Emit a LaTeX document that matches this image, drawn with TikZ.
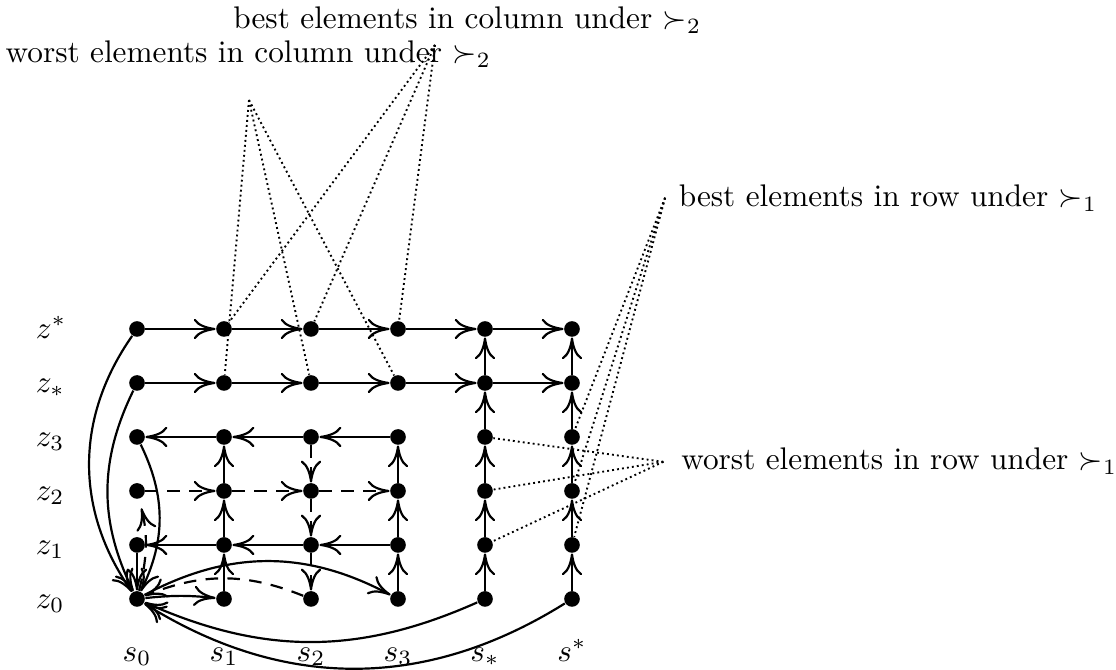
\documentclass[tikz,border=0pt]{standalone}
\usepackage{amsmath}
\usetikzlibrary{arrows.meta}
\tikzstyle{vertex} = [circle, fill=black, inner sep=0pt, minimum size=5pt]
\tikzstyle{arrow} = [line width=0.7pt,->,>={To[length=7pt,width=6.5pt]}]
\tikzstyle{darrow} = [arrow, dash pattern=on 4pt off 3pt]
\tikzstyle{guide} = [densely dotted, line width=0.6pt]
\tikzstyle{lbl} = [inner sep=0pt, anchor=base west]
\tikzstyle{clbl} = [inner sep=0pt, anchor=base]

\begin{document}
\begin{tikzpicture}[x=0.978cm, y=0.607cm]
        \useasboundingbox (-1.575,-1.315) rectangle (11.253,11.093);
        % Nodes
        \node (p00) [vertex] at (0,0) {};
        \node (p10) [vertex] at (1,0) {};
        \node (p20) [vertex] at (2,0) {};
        \node (p30) [vertex] at (3,0) {};
        \node (p40) [vertex] at (4,0) {};
        \node (p50) [vertex] at (5,0) {};
        \node (p01) [vertex] at (0,1) {};
        \node (p11) [vertex] at (1,1) {};
        \node (p21) [vertex] at (2,1) {};
        \node (p31) [vertex] at (3,1) {};
        \node (p41) [vertex] at (4,1) {};
        \node (p51) [vertex] at (5,1) {};
        \node (p02) [vertex] at (0,2) {};
        \node (p12) [vertex] at (1,2) {};
        \node (p22) [vertex] at (2,2) {};
        \node (p32) [vertex] at (3,2) {};
        \node (p42) [vertex] at (4,2) {};
        \node (p52) [vertex] at (5,2) {};
        \node (p03) [vertex] at (0,3) {};
        \node (p13) [vertex] at (1,3) {};
        \node (p23) [vertex] at (2,3) {};
        \node (p33) [vertex] at (3,3) {};
        \node (p43) [vertex] at (4,3) {};
        \node (p53) [vertex] at (5,3) {};
        \node (p04) [vertex] at (0,4) {};
        \node (p14) [vertex] at (1,4) {};
        \node (p24) [vertex] at (2,4) {};
        \node (p34) [vertex] at (3,4) {};
        \node (p44) [vertex] at (4,4) {};
        \node (p54) [vertex] at (5,4) {};
        \node (p05) [vertex] at (0,5) {};
        \node (p15) [vertex] at (1,5) {};
        \node (p25) [vertex] at (2,5) {};
        \node (p35) [vertex] at (3,5) {};
        \node (p45) [vertex] at (4,5) {};
        \node (p55) [vertex] at (5,5) {};

        % Labels
        \node (lz0) [lbl] at (-1.17,-0.17) {$z_0$};
        \node (lz1) [lbl] at (-1.17,0.83) {$z_1$};
        \node (lz2) [lbl] at (-1.17,1.83) {$z_2$};
        \node (lz3) [lbl] at (-1.17,2.83) {$z_3$};
        \node (lz4) [lbl] at (-1.17,3.83) {$z_*$};
        \node (lz5) [lbl] at (-1.17,4.83) {$z^*$};
        \node (ls0) [clbl] at (0,-1.15) {$s_0$};
        \node (ls1) [clbl] at (1,-1.15) {$s_1$};
        \node (ls2) [clbl] at (2,-1.15) {$s_2$};
        \node (ls3) [clbl] at (3,-1.15) {$s_3$};
        \node (ls4) [clbl] at (4,-1.15) {$s_*$};
        \node (ls5) [clbl] at (5,-1.15) {$s^*$};
        \node (bcoltxt) [lbl] at (1.10,10.56) {best elements in column under $\succ_2$};
        \node (wcoltxt) [lbl] at (-1.517,9.93) {worst elements in column under $\succ_2$};
        \node (browtxt) [lbl] at (6.22,7.26) {best elements in row under $\succ_1$};
        \node (wrowtxt) [lbl] at (6.25,2.39) {worst elements in row under $\succ_1$};
        \coordinate (bcol) at (3.425,10.26);
        \coordinate (wcol) at (1.287,9.24);
        \coordinate (brow) at (6.07,7.43);
        \coordinate (wrow) at (6.05,2.54);

        % Arrows
        \draw [arrow] (p05) -- (p15);
        \draw [arrow] (p15) -- (p25);
        \draw [arrow] (p25) -- (p35);
        \draw [arrow] (p35) -- (p45);
        \draw [arrow] (p45) -- (p55);
        \draw [arrow] (p04) -- (p14);
        \draw [arrow] (p14) -- (p24);
        \draw [arrow] (p24) -- (p34);
        \draw [arrow] (p34) -- (p44);
        \draw [arrow] (p44) -- (p54);
        \draw [arrow] (p33) -- (p23);
        \draw [arrow] (p23) -- (p13);
        \draw [arrow] (p13) -- (p03);
        \draw [darrow] (p02) -- (p12);
        \draw [darrow] (p12) -- (p22);
        \draw [darrow] (p22) -- (p32);
        \draw [arrow] (p31) -- (p21);
        \draw [arrow] (p21) -- (p11);
        \draw [arrow] (p11) -- (p01);
        \draw [arrow] (p10) -- (p11);
        \draw [arrow] (p11) -- (p12);
        \draw [arrow] (p12) -- (p13);
        \draw [darrow] (p23) -- (p22);
        \draw [darrow] (p22) -- (p21);
        \draw [darrow] (p21) -- (p20);
        \draw [arrow] (p30) -- (p31);
        \draw [arrow] (p31) -- (p32);
        \draw [arrow] (p32) -- (p33);
        \draw [arrow] (p40) -- (p41);
        \draw [arrow] (p41) -- (p42);
        \draw [arrow] (p42) -- (p43);
        \draw [arrow] (p43) -- (p44);
        \draw [arrow] (p44) -- (p45);
        \draw [arrow] (p50) -- (p51);
        \draw [arrow] (p51) -- (p52);
        \draw [arrow] (p52) -- (p53);
        \draw [arrow] (p53) -- (p54);
        \draw [arrow] (p54) -- (p55);
        \draw [arrow] (p01) -- (p00);
        \draw [arrow] (p05) to [bend right=35] (p00);
        \draw [arrow] (p04) to [bend right=26] (p00);
        \draw [arrow] (p03) to [bend left=26] (p00);
        \draw [darrow, shorten >=3pt] (p00) to [bend right=14] (p02);
        \draw [arrow] (p00) to [bend left=6] (p10);
        \draw [darrow] (p20) to [bend right=22] (p00);
        \draw [arrow] (p00) to [bend left=28] (p30);
        \draw [arrow] (p40) to [bend left=24] (p00);
        \draw [arrow] (p50) to [bend left=32] (p00);

        % Dotted guides
        \draw [guide] (bcol) -- (p15);
        \draw [guide] (bcol) -- (p25);
        \draw [guide] (bcol) -- (p35);
        \draw [guide] (wcol) -- (p14);
        \draw [guide] (wcol) -- (p24);
        \draw [guide] (wcol) -- (p34);
        \draw [guide] (brow) -- (p53);
        \draw [guide] (brow) -- (p52);
        \draw [guide] (brow) -- (p51);
        \draw [guide] (wrow) -- (p43);
        \draw [guide] (wrow) -- (p42);
        \draw [guide] (wrow) -- (p41);
    \end{tikzpicture}
\end{document}
